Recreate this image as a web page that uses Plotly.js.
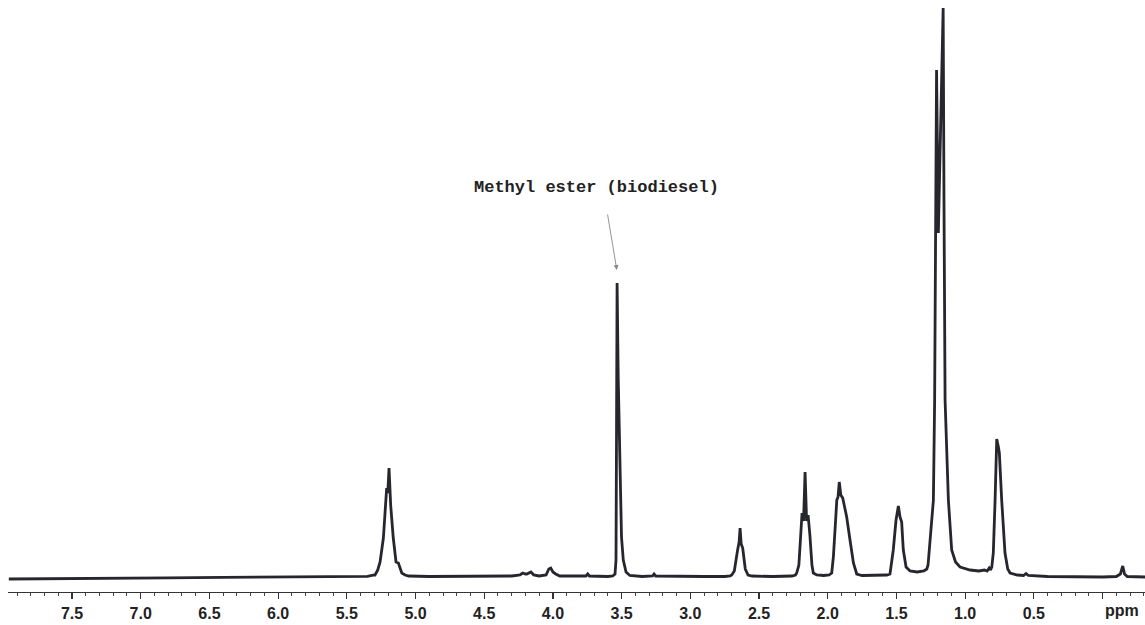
<!DOCTYPE html>
<html>
<head>
<meta charset="utf-8">
<script src="https://cdn.plot.ly/plotly-3.0.1.min.js"></script>
<style>html,body{margin:0;padding:0;background:#fff;}#chart{width:1145px;height:625px;}</style>
</head>
<body>
<div id="chart"></div>
<script>
// Chemical shift (ppm), descending
var shiftPpm = [
  7.96, 7.60, 7.20, 6.80, 6.40, 6.00, 5.85, 5.80, 5.50, 5.35,
  5.30, 5.295, 5.275, 5.258, 5.234, 5.217, 5.210, 5.202, 5.193, 5.181,
  5.162, 5.142, 5.125, 5.110, 5.100, 5.076, 5.05, 4.90, 4.60, 4.30,
  4.24, 4.22, 4.20, 4.19, 4.16, 4.14, 4.10, 4.05, 4.03, 4.016,
  4.00, 3.98, 3.95, 3.80, 3.76, 3.747, 3.735, 3.60, 3.565, 3.548,
  3.541, 3.537, 3.533, 3.525, 3.519, 3.511, 3.501, 3.488, 3.468, 3.44,
  3.35, 3.275, 3.264, 3.252, 3.10, 2.90, 2.75, 2.71, 2.699, 2.68,
  2.656, 2.645, 2.638, 2.630, 2.619, 2.60, 2.58, 2.55, 2.40, 2.26,
  2.235, 2.226, 2.21, 2.20, 2.187, 2.176, 2.165, 2.154, 2.143, 2.13,
  2.115, 2.105, 2.08, 2.03, 1.99, 1.971, 1.959, 1.947, 1.934, 1.925,
  1.916, 1.905, 1.891, 1.862, 1.850, 1.838, 1.813, 1.789, 1.75, 1.65,
  1.57, 1.547, 1.523, 1.503, 1.486, 1.474, 1.462, 1.450, 1.430, 1.401,
  1.35, 1.30, 1.279, 1.270, 1.255, 1.243, 1.231, 1.222, 1.216, 1.208,
  1.195, 1.160, 1.154, 1.146, 1.122, 1.098, 1.070, 1.037, 0.964, 0.90,
  0.86, 0.84, 0.825, 0.815, 0.806, 0.795, 0.782, 0.775, 0.770, 0.758,
  0.751, 0.734, 0.710, 0.690, 0.673, 0.62, 0.575, 0.557, 0.54, 0.40,
  0.20, 0.00, -0.10, -0.13, -0.147, -0.160, -0.18, -0.25, -0.31
];
// Signal intensity (arbitrary units)
var intensity = [
  -2, -1.8, -1.3, -0.8, -0.3, 0, 0.6, 0.3, 0.2, 0.6,
  2, 2, 7, 15, 39, 72, 89, 84, 109, 72,
  39, 15, 14, 8, 4, 2, 1, 0.5, 0.5, 1,
  2, 4, 3, 3, 5, 2, 1, 2, 8, 9,
  5, 3, 1, 0.5, 1, 3, 1, 0.5, 1, 3,
  17, 150, 294, 200, 150, 80, 40, 17, 5, 1.5,
  0.5, 1, 3, 1, 0.5, 0.5, 0.5, 1, 2, 6,
  27, 35, 49, 33, 29, 8, 2, 1, 0.5, 1,
  2, 4, 12, 40, 64, 56, 105, 56, 62, 42,
  12, 4, 2, 1.5, 2, 4, 20, 47, 77, 80,
  95, 82, 79, 60, 47, 37, 14, 3, 1.5, 2,
  2, 3, 27, 57, 71, 60, 55, 27, 10, 6,
  5, 6, 8, 12, 35, 59, 77, 177, 377, 507,
  344, 569, 377, 177, 77, 27, 15, 10, 7, 6,
  7, 6, 9, 7, 10, 24, 77, 124, 138, 130,
  124, 77, 24, 8, 4, 2, 1.5, 3.5, 1.5, 0.5,
  0, 0, 0.5, 3, 11, 3, 0.5, 0, 0
];
var tickValues = [7.5, 7.0, 6.5, 6.0, 5.5, 5.0, 4.5, 4.0, 3.5, 3.0, 2.5, 2.0, 1.5, 1.0, 0.5, 0.0];
var tickLabels = ['7.5', '7.0', '6.5', '6.0', '5.5', '5.0', '4.5', '4.0', '3.5', '3.0', '2.5', '2.0', '1.5', '1.0', '0.5', ''];
var unitLabel = 'ppm';
var peakLabel = 'Methyl ester (biodiesel)';

var trace = {
  x: shiftPpm,
  y: intensity,
  type: 'scatter',
  mode: 'lines',
  line: {color: '#26262f', width: 2.8, shape: 'linear'},
  hoverinfo: 'x+y'
};

var tickFont = {family: 'Liberation Sans, Arial, sans-serif', size: 16, color: '#222', weight: 'bold'};

var layout = {
  width: 1145,
  height: 625,
  margin: {l: 8, r: 0, t: 0, b: 33, pad: 0},
  paper_bgcolor: '#ffffff',
  plot_bgcolor: '#ffffff',
  showlegend: false,
  xaxis: {
    range: [7.966, -0.309],
    tickmode: 'array',
    tickvals: tickValues,
    ticktext: tickLabels,
    ticks: 'outside',
    ticklen: 6,
    tickwidth: 1.2,
    tickcolor: '#333',
    showline: true,
    linecolor: '#333',
    linewidth: 1.4,
    showgrid: false,
    zeroline: false,
    tickfont: tickFont,
    minor: {ticks: 'outside', tickmode: 'linear', tick0: 0, dtick: 0.1, ticklen: 3, tickwidth: 1, tickcolor: '#444', showgrid: false},
    fixedrange: true
  },
  yaxis: {
    range: [-15, 577],
    visible: false,
    showgrid: false,
    zeroline: false,
    fixedrange: true
  },
  annotations: [
    {
      x: 3.686, y: 390, xref: 'x', yref: 'y',
      text: peakLabel,
      showarrow: false,
      font: {family: 'Liberation Mono, Courier New, monospace', size: 17, color: '#222', weight: 'bold'},
      xanchor: 'center', yanchor: 'middle'
    },
    {
      x: 3.535, y: 307, xref: 'x', yref: 'y',
      ax: 3.604, ay: 364, axref: 'x', ayref: 'y',
      text: '',
      showarrow: true,
      arrowhead: 2, arrowsize: 1.1, arrowwidth: 0.9, arrowcolor: '#888',
      standoff: 0, startstandoff: 0
    },
    {
      x: -0.143, y: -0.031, xref: 'x', yref: 'paper',
      text: unitLabel,
      showarrow: false,
      font: tickFont,
      xanchor: 'center', yanchor: 'middle'
    }
  ]
};

Plotly.newPlot('chart', [trace], layout, {displayModeBar: false, staticPlot: true});
</script>
</body>
</html>
